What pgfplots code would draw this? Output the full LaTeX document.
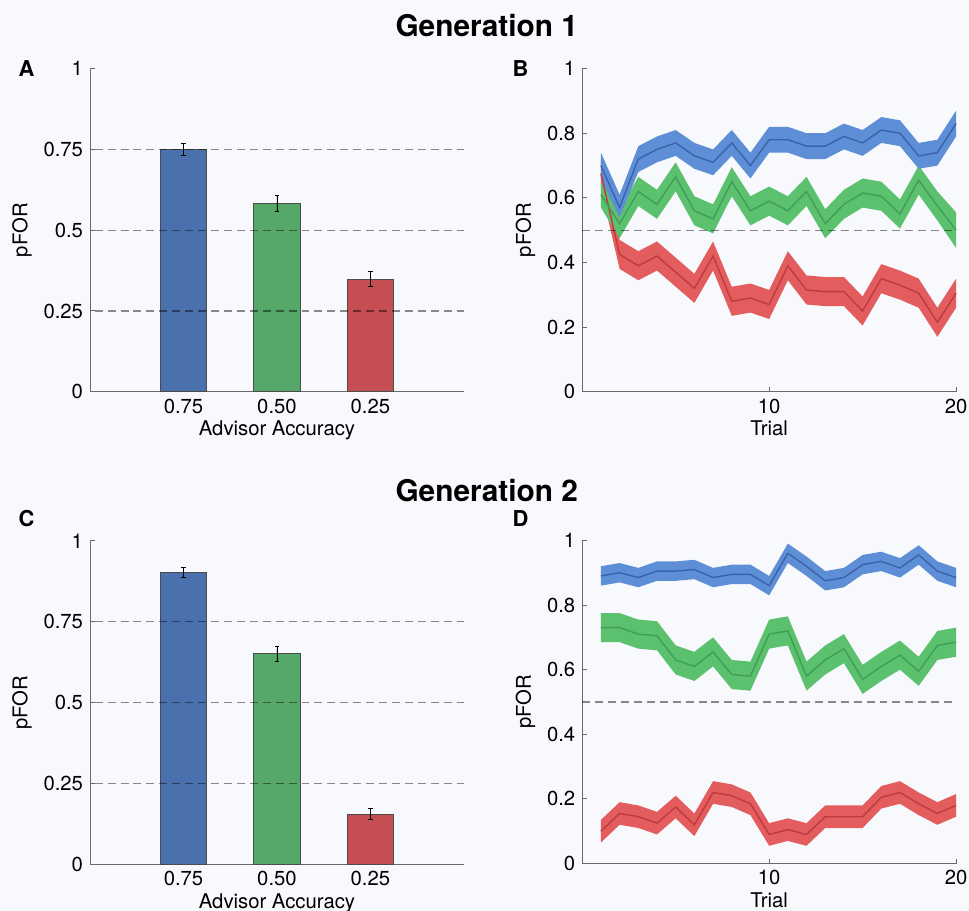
\documentclass[border=0pt]{standalone}
\usepackage{pgfplots}
\pgfplotsset{compat=1.18}
\usepackage{pgfplotstable}
\usepgfplotslibrary{fillbetween}
\usepackage{fontspec}
\setmainfont{TeX Gyre Heros}

\definecolor{bgc}{HTML}{F8F9FD}
\definecolor{barblue}{HTML}{4A70AE}
\definecolor{bargreen}{HTML}{55A868}
\definecolor{barred}{HTML}{C44E52}
\definecolor{bandblue}{HTML}{5E8FD6}
\definecolor{lineblue}{HTML}{3A62A8}
\definecolor{bandgreen}{HTML}{5CC16E}
\definecolor{linegreen}{HTML}{3E9E55}
\definecolor{bandred}{HTML}{E35D5F}
\definecolor{linered}{HTML}{BF3A40}
\definecolor{axc}{HTML}{6A6A6A}

% trial, mean, lower, upper
\pgfplotstableread{
t m lo hi
1 0.70 0.66 0.74
2 0.57 0.54 0.61
3 0.72 0.68 0.76
4 0.75 0.71 0.79
5 0.77 0.73 0.81
6 0.73 0.69 0.77
7 0.71 0.67 0.75
8 0.77 0.73 0.81
9 0.70 0.66 0.74
10 0.78 0.74 0.82
11 0.78 0.74 0.82
12 0.76 0.72 0.80
13 0.76 0.72 0.80
14 0.79 0.75 0.83
15 0.77 0.73 0.81
16 0.81 0.77 0.85
17 0.80 0.76 0.84
18 0.73 0.69 0.77
19 0.74 0.70 0.78
20 0.83 0.79 0.87
}\gaBlue
\pgfplotstableread{
t m lo hi
1 0.61 0.57 0.65
2 0.52 0.475 0.565
3 0.62 0.575 0.665
4 0.58 0.535 0.625
5 0.665 0.62 0.71
6 0.56 0.515 0.605
7 0.535 0.49 0.58
8 0.65 0.605 0.695
9 0.56 0.515 0.605
10 0.59 0.545 0.635
11 0.56 0.515 0.605
12 0.62 0.575 0.665
13 0.52 0.475 0.565
14 0.58 0.535 0.625
15 0.615 0.57 0.66
16 0.605 0.56 0.65
17 0.55 0.505 0.595
18 0.655 0.61 0.70
19 0.575 0.53 0.62
20 0.50 0.445 0.555
}\gaGreen
\pgfplotstableread{
t m lo hi
1 0.675 0.63 0.72
2 0.425 0.38 0.47
3 0.39 0.345 0.435
4 0.42 0.375 0.465
5 0.37 0.325 0.415
6 0.32 0.275 0.365
7 0.42 0.375 0.465
8 0.28 0.235 0.325
9 0.29 0.245 0.335
10 0.27 0.225 0.315
11 0.39 0.345 0.435
12 0.315 0.27 0.36
13 0.31 0.265 0.355
14 0.31 0.265 0.355
15 0.25 0.205 0.295
16 0.35 0.305 0.395
17 0.33 0.285 0.375
18 0.305 0.26 0.35
19 0.215 0.17 0.26
20 0.305 0.26 0.35
}\gaRed
\pgfplotstableread{
t m lo hi
1 0.89 0.86 0.92
2 0.90 0.87 0.93
3 0.885 0.855 0.915
4 0.905 0.875 0.935
5 0.905 0.875 0.935
6 0.91 0.88 0.94
7 0.885 0.855 0.915
8 0.895 0.865 0.925
9 0.895 0.865 0.925
10 0.86 0.83 0.89
11 0.96 0.93 0.99
12 0.92 0.89 0.95
13 0.875 0.845 0.905
14 0.885 0.855 0.915
15 0.925 0.895 0.955
16 0.935 0.905 0.965
17 0.915 0.885 0.945
18 0.955 0.925 0.985
19 0.905 0.875 0.935
20 0.885 0.855 0.915
}\gbBlue
\pgfplotstableread{
t m lo hi
1 0.73 0.685 0.775
2 0.73 0.685 0.775
3 0.71 0.665 0.755
4 0.705 0.66 0.75
5 0.63 0.585 0.675
6 0.61 0.565 0.655
7 0.655 0.61 0.70
8 0.585 0.54 0.63
9 0.58 0.535 0.625
10 0.71 0.665 0.755
11 0.72 0.675 0.765
12 0.58 0.535 0.625
13 0.63 0.585 0.675
14 0.665 0.62 0.71
15 0.57 0.525 0.615
16 0.61 0.565 0.655
17 0.645 0.60 0.69
18 0.595 0.55 0.64
19 0.675 0.63 0.72
20 0.685 0.64 0.73
}\gbGreen
\pgfplotstableread{
t m lo hi
1 0.10 0.065 0.135
2 0.155 0.12 0.19
3 0.145 0.11 0.18
4 0.125 0.09 0.16
5 0.175 0.14 0.21
6 0.12 0.085 0.155
7 0.22 0.185 0.255
8 0.21 0.175 0.245
9 0.185 0.15 0.22
10 0.09 0.055 0.125
11 0.105 0.07 0.14
12 0.09 0.055 0.125
13 0.145 0.11 0.18
14 0.145 0.11 0.18
15 0.145 0.11 0.18
16 0.205 0.17 0.24
17 0.22 0.185 0.255
18 0.185 0.15 0.22
19 0.155 0.12 0.19
20 0.18 0.145 0.215
}\gbRed

\pgfplotsset{
  panel/.style={
    scale only axis, width=188pt, height=162.5pt,
    axis x line*=bottom, axis y line*=left,
    axis line style={draw=axc, line width=0.5pt},
    tick style={draw=axc, line width=0.5pt}, tick align=inside,
    major tick length=2.5pt,
    ymin=0, ymax=1,
    font=\fontsize{10.2}{11}\selectfont,
    /pgf/number format/assume math mode=true,
    ylabel={pFOR},
    ylabel style={yshift=-1pt},
    xlabel style={yshift=3pt},
    clip=false,
  },
  barpanel/.style={panel,
    xmin=0, xmax=4, xtick={1,2,3}, xticklabels={0.75,0.50,0.25},
    ytick={0,0.25,0.5,0.75,1}, yticklabels={0,0.25,0.5,0.75,1},
    xlabel={Advisor Accuracy},
  },
  trialpanel/.style={panel,
    xmin=0, xmax=20, xtick={10,20},
    ytick={0,0.2,0.4,0.6,0.8,1}, yticklabels={0,0.2,0.4,0.6,0.8,1},
    xlabel={Trial},
  },
  onebar/.style={ybar, bar width=0.5, bar shift=0pt, draw=black!70, line width=0.4pt},
  hl/.style={draw=black, draw opacity=0.45, line width=0.6pt, dash pattern=on 4pt off 2.5pt},
  eb/.style={error bars/.cd, y dir=both, y explicit,
    error bar style={black, line width=0.4pt},
    error mark options={rotate=90, mark size=1.1pt, black, line width=0.4pt}},
}

\begin{document}
\pagecolor{bgc}
\begin{tikzpicture}

\node[font=\bfseries\fontsize{15}{17}\selectfont] at (242pt,-13pt) {Generation 1};
\node[font=\bfseries\fontsize{15}{17}\selectfont] at (242pt,-246.5pt) {Generation 2};
\node[font=\bfseries\fontsize{11}{13}\selectfont] at (10.5pt,-34.5pt) {A};
\node[font=\bfseries\fontsize{11}{13}\selectfont] at (259pt,-34.5pt) {B};
\node[font=\bfseries\fontsize{11}{13}\selectfont] at (10.5pt,-260.5pt) {C};
\node[font=\bfseries\fontsize{11}{13}\selectfont] at (259pt,-260.5pt) {D};

% A
\begin{axis}[barpanel, at={(42.5pt,-197pt)}, anchor=south west]
  \addplot[onebar, fill=barblue, eb] coordinates {(1,0.750) +- (0,0.020)};
  \addplot[onebar, fill=bargreen, eb] coordinates {(2,0.582) +- (0,0.025)};
  \addplot[onebar, fill=barred, eb] coordinates {(3,0.348) +- (0,0.023)};
  \addplot[hl] coordinates {(0.05,0.25) (4,0.25)};
  \addplot[hl] coordinates {(0.05,0.5) (4,0.5)};
  \addplot[hl] coordinates {(0.05,0.75) (4,0.75)};
\end{axis}

% B
\begin{axis}[trialpanel, at={(290pt,-197pt)}, anchor=south west]
  \addplot[draw=none, name path=arl, forget plot] table[x=t, y=lo] {\gaRed};
  \addplot[draw=none, name path=arh, forget plot] table[x=t, y=hi] {\gaRed};
  \addplot[fill=bandred, draw=none] fill between[of=arl and arh];
  \addplot[linered, line width=0.7pt] table[x=t, y=m] {\gaRed};
  \addplot[draw=none, name path=agl, forget plot] table[x=t, y=lo] {\gaGreen};
  \addplot[draw=none, name path=agh, forget plot] table[x=t, y=hi] {\gaGreen};
  \addplot[fill=bandgreen, draw=none] fill between[of=agl and agh];
  \addplot[linegreen, line width=0.7pt] table[x=t, y=m] {\gaGreen};
  \addplot[draw=none, name path=abl, forget plot] table[x=t, y=lo] {\gaBlue};
  \addplot[draw=none, name path=abh, forget plot] table[x=t, y=hi] {\gaBlue};
  \addplot[fill=bandblue, draw=none] fill between[of=abl and abh];
  \addplot[lineblue, line width=0.7pt] table[x=t, y=m] {\gaBlue};
  \addplot[hl] coordinates {(0,0.5) (20,0.5)};
\end{axis}

% C
\begin{axis}[barpanel, at={(42.5pt,-434.5pt)}, anchor=south west]
  \addplot[onebar, fill=barblue, eb] coordinates {(1,0.902) +- (0,0.016)};
  \addplot[onebar, fill=bargreen, eb] coordinates {(2,0.651) +- (0,0.023)};
  \addplot[onebar, fill=barred, eb] coordinates {(3,0.155) +- (0,0.018)};
  \addplot[hl] coordinates {(0.05,0.25) (4,0.25)};
  \addplot[hl] coordinates {(0.05,0.5) (4,0.5)};
  \addplot[hl] coordinates {(0.05,0.75) (4,0.75)};
\end{axis}

% D
\begin{axis}[trialpanel, at={(290pt,-434.25pt)}, anchor=south west]
  \addplot[draw=none, name path=brl, forget plot] table[x=t, y=lo] {\gbRed};
  \addplot[draw=none, name path=brh, forget plot] table[x=t, y=hi] {\gbRed};
  \addplot[fill=bandred, draw=none] fill between[of=brl and brh];
  \addplot[linered, line width=0.7pt] table[x=t, y=m] {\gbRed};
  \addplot[draw=none, name path=bgl, forget plot] table[x=t, y=lo] {\gbGreen};
  \addplot[draw=none, name path=bgh, forget plot] table[x=t, y=hi] {\gbGreen};
  \addplot[fill=bandgreen, draw=none] fill between[of=bgl and bgh];
  \addplot[linegreen, line width=0.7pt] table[x=t, y=m] {\gbGreen};
  \addplot[draw=none, name path=bbl, forget plot] table[x=t, y=lo] {\gbBlue};
  \addplot[draw=none, name path=bbh, forget plot] table[x=t, y=hi] {\gbBlue};
  \addplot[fill=bandblue, draw=none] fill between[of=bbl and bbh];
  \addplot[lineblue, line width=0.7pt] table[x=t, y=m] {\gbBlue};
  \addplot[hl] coordinates {(0,0.5) (20,0.5)};
\end{axis}

\pgfresetboundingbox
\useasboundingbox (0,0) rectangle (484.5pt,-458pt);
\end{tikzpicture}
\end{document}
